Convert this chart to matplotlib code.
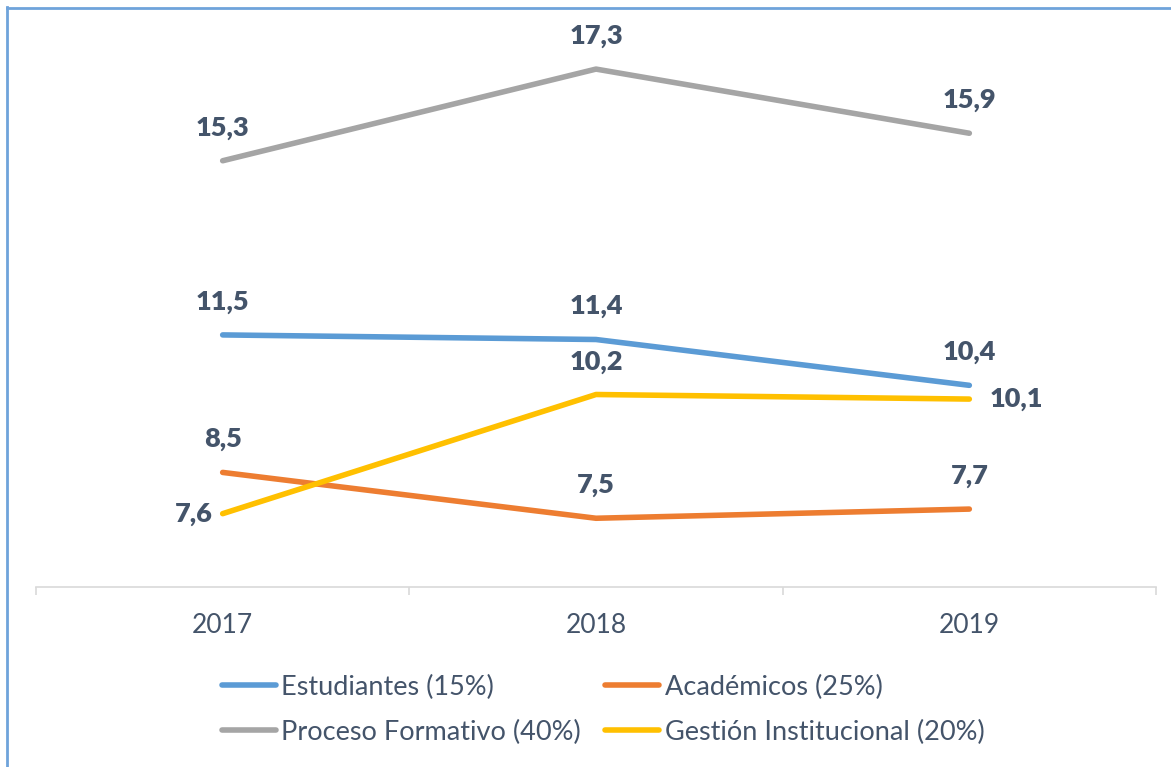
import matplotlib.pyplot as plt
from matplotlib.lines import Line2D

# Data
years = ["2017", "2018", "2019"]
estudiantes = [11.5, 11.4, 10.4]
academicos = [8.5, 7.5, 7.7]
proceso = [15.3, 17.3, 15.9]
gestion = [7.6, 10.2, 10.1]

series = [
    ("Estudiantes (15%)", estudiantes, "#5B9BD5"),
    ("Académicos (25%)", academicos, "#ED7D31"),
    ("Proceso Formativo (40%)", proceso, "#A5A5A5"),
    ("Gestión Institucional (20%)", gestion, "#FFC000"),
]

text_color = "#44546A"
plt.rcParams["font.family"] = ["Lato", "DejaVu Sans"]

fig = plt.figure(figsize=(11.71, 7.67), dpi=100)
ax = fig.add_axes([36 / 1171, 1 - 587 / 767, 1120 / 1171, 550 / 767])

x = list(range(len(years)))
handles = {}
for name, vals, color in series:
    ln, = ax.plot(x, vals, color=color, linewidth=4.0, solid_capstyle="round",
                  solid_joinstyle="round", label=name)
    handles[name] = ln

# Data labels (default above; a couple placed left/right like the original)
placement = {("Gestión Institucional (20%)", 0): "left",
             ("Gestión Institucional (20%)", 2): "right"}
for name, vals, color in series:
    for i, v in enumerate(vals):
        pos = placement.get((name, i), "above")
        if pos == "above":
            off, ha, va = (0, 33), "center", "center"
        elif pos == "left":
            off, ha, va = (-10, 0), "right", "center"
        else:
            off, ha, va = (20, 0), "left", "center"
        ax.annotate(f"{v:.1f}".replace(".", ","), xy=(i, v), xytext=off,
                    textcoords="offset pixels", ha=ha, va=va,
                    fontsize=19.5, fontweight="heavy", color=text_color)

ax.set_xlim(-0.5, 2.5)
ax.set_ylim(6, 18)
ax.set_xticks(x)
ax.set_xticklabels(years)
ax.set_xticks([-0.5, 0.5, 1.5, 2.5], minor=True)
ax.tick_params(axis="x", which="major", length=0, pad=19, labelsize=19,
               labelcolor=text_color)
ax.tick_params(axis="x", which="minor", length=6, width=1.2, color="#D9D9D9")
ax.set_yticks([])
for side in ["left", "right", "top"]:
    ax.spines[side].set_visible(False)
ax.spines["bottom"].set_color("#D9D9D9")
ax.spines["bottom"].set_linewidth(1.2)

# Legend below, filled row by row
order = ["Estudiantes (15%)", "Proceso Formativo (40%)",
         "Académicos (25%)", "Gestión Institucional (20%)"]
leg = fig.legend([handles[n] for n in order], order,
                 loc="upper left", bbox_to_anchor=(208 / 1171, 1 - 661 / 767),
                 ncol=2, frameon=False, fontsize=19.5, handlelength=2.0,
                 handletextpad=0.2, columnspacing=0.9, labelspacing=0.74,
                 borderpad=0)
for t in leg.get_texts():
    t.set_color(text_color)

# Chart frame (only left and top edges visible in the crop)
fig.add_artist(Line2D([6.5 / 1171, 6.5 / 1171], [0, 1 - 7 / 767],
                      transform=fig.transFigure, color="#6FA3DB", linewidth=2))
fig.add_artist(Line2D([6.5 / 1171, 1], [1 - 7.5 / 767, 1 - 7.5 / 767],
                      transform=fig.transFigure, color="#6FA3DB", linewidth=2))

fig.savefig("out.png", dpi=100)
